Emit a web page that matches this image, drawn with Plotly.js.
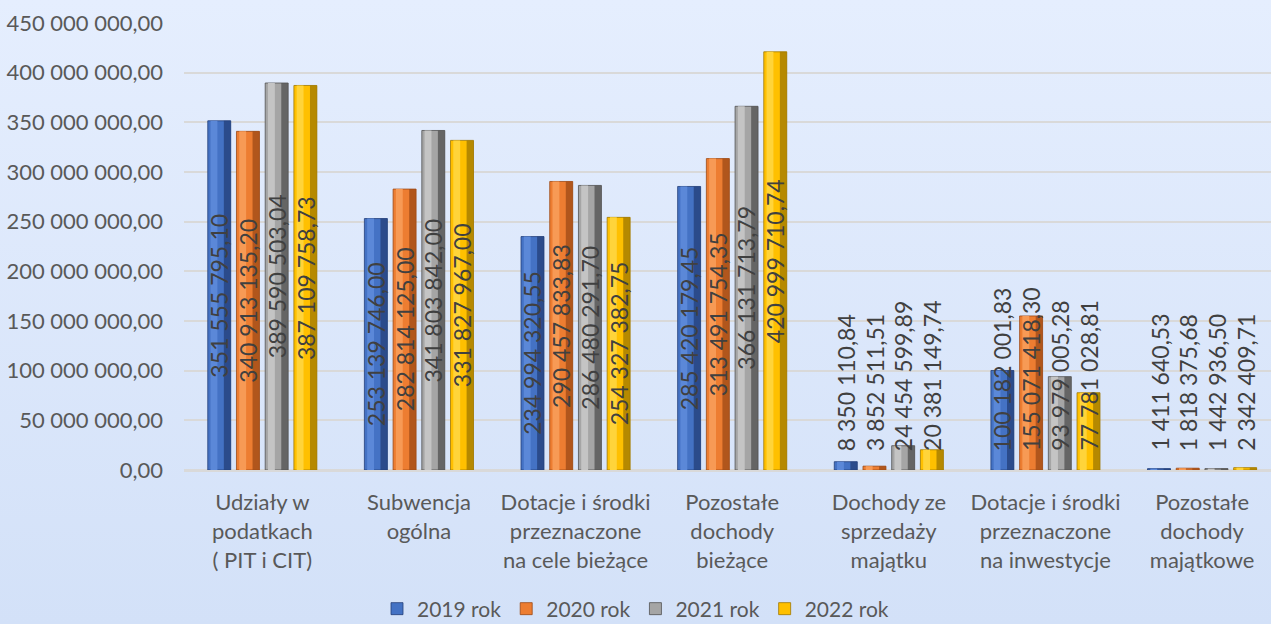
<!DOCTYPE html>
<html>
<head>
<meta charset="utf-8">
<script src="https://cdn.plot.ly/plotly-3.0.1.min.js"></script>
<style>html,body{margin:0;padding:0;background:#dde8fb;}#chart{width:1271px;height:624px;}</style>
</head>
<body>
<div id="chart"></div>
<script>
const categories = [
  "Udziały w<br>podatkach<br>( PIT i CIT)",
  "Subwencja<br>ogólna",
  "Dotacje i środki<br>przeznaczone<br>na cele bieżące",
  "Pozostałe<br>dochody<br>bieżące",
  "Dochody ze<br>sprzedaży<br>majątku",
  "Dotacje i środki<br>przeznaczone<br>na inwestycje",
  "Pozostałe<br>dochody<br>majątkowe"
];
const seriesNames = ["2019 rok", "2020 rok", "2021 rok", "2022 rok"];
const values2019 = [351555795.10, 253139746.00, 234994320.55, 285420179.45, 8350110.84, 100182001.83, 1411640.53];
const values2020 = [340913135.20, 282814125.00, 290457833.83, 313491754.35, 3852511.51, 155071418.30, 1818375.68];
const values2021 = [389590503.04, 341803842.00, 286480291.70, 366131713.79, 24454599.89, 93979005.28, 1442936.50];
const values2022 = [387109758.73, 331827967.00, 254327382.75, 420999710.74, 20381149.74, 77781028.81, 2342409.71];
const yTickVals = [0, 50e6, 100e6, 150e6, 200e6, 250e6, 300e6, 350e6, 400e6, 450e6];

const allValues = [values2019, values2020, values2021, values2022];
const baseColors  = ["#4472c4", "#ed7d31", "#a5a5a5", "#ffc000"];
const lightColors = ["#5b88d8", "#f79a55", "#c4c4c4", "#ffd43a"];
const darkColors  = ["#233f78", "#9c4915", "#505050", "#9e7700"];

function fmt(n) {
  const parts = n.toFixed(2).split(".");
  const intPart = parts[0].replace(/\B(?=(\d{3})+(?!\d))/g, " ");
  return intPart + "," + parts[1];
}

const xIdx = categories.map((c, i) => i);
const slot = 0.1833;
const bw = 0.8 * slot;
const traces = [];
const annotations = [];
const plotH = 447, yMax = 450e6, yPerPx = yMax / plotH;

allValues.forEach((vals, s) => {
  const c = (s - 1.5) * slot;
  traces.push({
    type: "bar", x: xIdx, y: vals, name: seriesNames[s],
    offset: c - bw / 2, width: bw,
    marker: {color: baseColors[s], line: {color: darkColors[s], width: 0.8}},
    hoverinfo: "skip"
  });
  traces.push({
    type: "bar", x: xIdx, y: vals, showlegend: false,
    offset: c - bw / 2 + 0.12 * bw, width: 0.3 * bw,
    marker: {color: lightColors[s], line: {width: 0}},
    hoverinfo: "skip"
  });
  traces.push({
    type: "bar", x: xIdx, y: vals, showlegend: false,
    offset: c + bw / 2 - 0.3 * bw, width: 0.3 * bw,
    marker: {color: darkColors[s], opacity: 0.75, line: {width: 0}},
    hoverinfo: "skip"
  });
  vals.forEach((v, i) => {
    const centered = (v / 2 - 84 * yPerPx) >= 17 * yPerPx;
    annotations.push({
      x: i + c, y: centered ? v / 2 : 0,
      xref: "x", yref: "y",
      text: fmt(v), textangle: -90, showarrow: false,
      xanchor: "center", yanchor: centered ? "middle" : "bottom",
      yshift: centered ? 0 : 17,
      font: {family: "Lato, 'Open Sans', sans-serif", size: 23, color: "#404040"}
    });
  });
});

const bgSvg = "<svg xmlns='http://www.w3.org/2000/svg' width='100' height='100' preserveAspectRatio='none'><defs><linearGradient id='g' x1='0' y1='0' x2='0' y2='1'><stop offset='0' stop-color='#e5eefe'/><stop offset='1' stop-color='#d3e1f8'/></linearGradient></defs><rect width='100' height='100' fill='url(#g)'/></svg>";
const bgUri = "data:image/svg+xml;charset=utf-8," + encodeURIComponent(bgSvg);

const L = 184, T = 23, W = 1271, H = 624;
const pw = W - L, ph = plotH;

const layout = {
  width: W, height: H,
  margin: {l: L, r: 0, t: T, b: H - T - ph, pad: 0, autoexpand: false},
  paper_bgcolor: "#dde8fb",
  plot_bgcolor: "rgba(0,0,0,0)",
  separators: ", ",
  barmode: "overlay",
  showlegend: true,
  font: {family: "Lato, 'Open Sans', sans-serif", color: "#595959"},
  xaxis: {
    type: "linear",
    range: [-0.5, 6.44],
    tickvals: xIdx, ticktext: categories,
    showgrid: false, zeroline: false,
    showline: true, linecolor: "#d9d9d9", linewidth: 2,
    ticks: "", ticklabelstandoff: 12,
    tickfont: {size: 22, color: "#595959"},
    fixedrange: true
  },
  yaxis: {
    range: [0, yMax],
    tickvals: yTickVals, tickformat: ",.2f",
    showgrid: true, gridcolor: "#d9d9d9", gridwidth: 2,
    zeroline: true, zerolinecolor: "#d9d9d9", zerolinewidth: 2,
    showline: false, ticks: "", ticklabelstandoff: 20,
    tickfont: {size: 22, color: "#595959"},
    fixedrange: true
  },
  legend: {
    orientation: "h",
    xref: "paper", yref: "paper",
    x: (W / 2 - L) / pw, xanchor: "center",
    y: -(609 - (T + ph)) / ph, yanchor: "middle",
    font: {size: 21, color: "#595959"},
    bgcolor: "rgba(0,0,0,0)",
    itemwidth: 30, traceorder: "normal"
  },
  images: [{
    source: bgUri, layer: "below",
    xref: "paper", yref: "paper",
    x: -L / pw, y: 1 + T / ph,
    sizex: W / pw, sizey: H / ph,
    xanchor: "left", yanchor: "top",
    sizing: "stretch"
  }],
  annotations: annotations
};

Plotly.newPlot("chart", traces, layout, {displayModeBar: false, staticPlot: true});
</script>
</body>
</html>
